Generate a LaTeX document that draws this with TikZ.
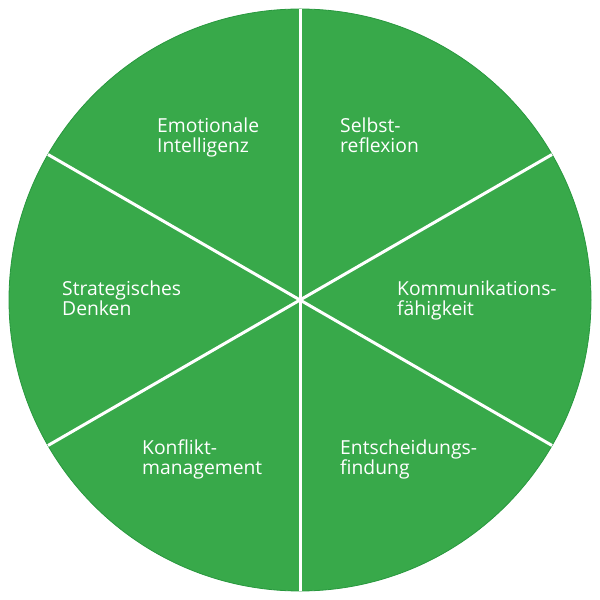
\documentclass[tikz,border=0pt]{standalone}
\usepackage{fontspec}
\setmainfont{Open Sans}
\usetikzlibrary{calc}
\definecolor{wheelgreen}{RGB}{56,169,74}
\definecolor{wheeledge}{RGB}{40,152,62}
\begin{document}
\begin{tikzpicture}[x=1pt,y=1pt,
  lbl/.style={text=white,align=left,anchor=base west,inner sep=0pt,
    font=\fontsize{19.3}{20.5}\selectfont},
  divider/.style={draw=white,line width=3pt}]
\useasboundingbox (0,0) rectangle (600,600);
\coordinate (c) at (300,300);
\fill[wheelgreen,draw=wheeledge,line width=0.8pt] (c) circle[radius=291];
\foreach \a/\n in {90/n,30/ne,-30/se,-90/s,-150/sw,150/nw}
  \coordinate (\n) at ($(c)+(\a:291)$);
\foreach \n in {n,ne,se,s,sw,nw}
  \draw[divider] (c) -- (\n);
\node[lbl] (emo) at (157,447) {Emotionale\\Intelligenz};
\node[lbl] (sel) at (340,447) {Selbst-\\reflexion};
\node[lbl] (str) at (62,284) {Strategisches\\Denken};
\node[lbl] (kom) at (397,284) {Kommunikations-\\fähigkeit};
\node[lbl] (kon) at (142,125) {Konflikt-\\management};
\node[lbl] (ent) at (340,125) {Entscheidungs-\\findung};
\end{tikzpicture}
\end{document}
